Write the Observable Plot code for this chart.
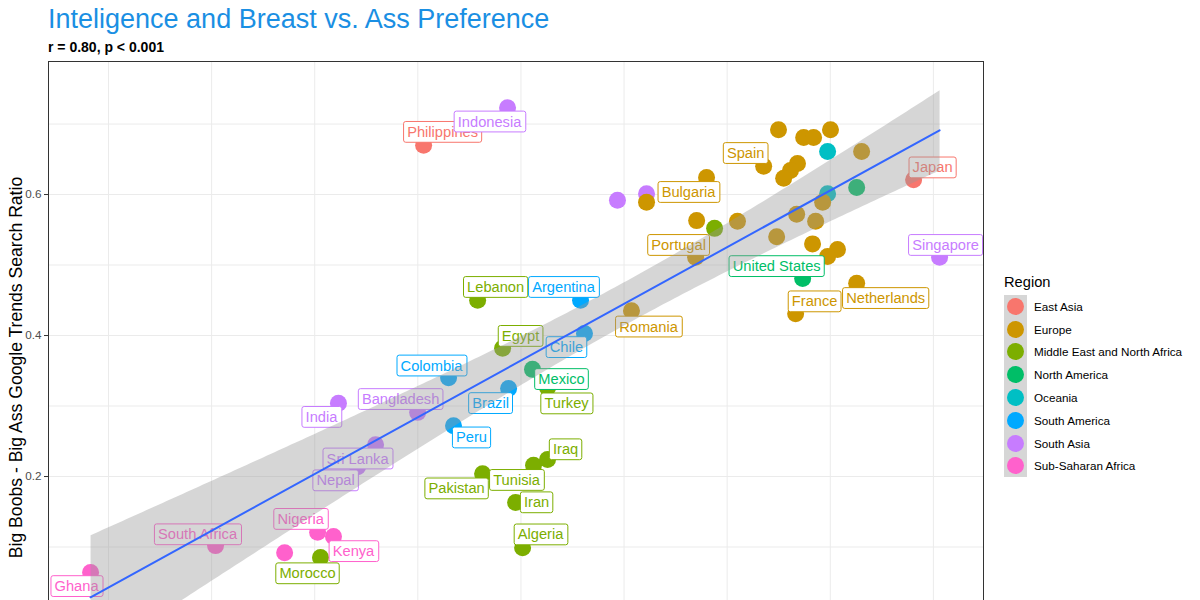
<!DOCTYPE html>
<html>
<head>
<meta charset="utf-8">
<script src="https://cdn.jsdelivr.net/npm/d3@7"></script>
<script src="https://cdn.jsdelivr.net/npm/@observablehq/plot@0.6"></script>
<style>
  html, body { margin: 0; padding: 0; background: #fff; width: 1200px; height: 600px; overflow: hidden;
    font-family: "Liberation Sans", Arial, sans-serif; }
  #title { position: absolute; left: 48px; top: 4px; font-size: 27px; line-height: 30px; color: #1a8fe3; white-space: nowrap; z-index: 2; }
  #subtitle { position: absolute; left: 48px; top: 39px; font-size: 14px; line-height: 16px; font-weight: bold; color: #000; white-space: nowrap; z-index: 2; }
  #chart { position: absolute; left: 0; top: 51px; z-index: 1; }
  #legend { position: absolute; left: 1004px; top: 272px; }
  #legend .ltitle { font-size: 14.67px; line-height: 20px; height: 23px; color: #000; }
  #legend .row { height: 22.8px; display: flex; align-items: center; }
  #legend .key { width: 23px; height: 22.8px; background: #d6d6d6; display: flex; align-items: center; justify-content: center; }
  #legend .dot { width: 17px; height: 17px; border-radius: 50%; }
  #legend .ltext { font-size: 11.7px; color: #000; margin-left: 7px; white-space: nowrap; }
</style>
</head>
<body>
<div id="title"></div>
<div id="subtitle"></div>
<div id="chart"></div>
<div id="legend"></div>
<script>
// ---- text ----
const chartTitle = "Inteligence and Breast vs. Ass Preference";
const chartSubtitle = "r = 0.80, p < 0.001";
const yTitle = "Big Boobs - Big Ass Google Trends Search Ratio";
const legendTitle = "Region";

// ---- regions (legend order) and ggplot hue palette ----
const regionNames = ["East Asia", "Europe", "Middle East and North Africa", "North America",
  "Oceania", "South America", "South Asia", "Sub-Saharan Africa"];
const regionColors = ["#F8766D", "#CD9600", "#7CAE00", "#00BE67", "#00BFC4", "#00A9FF", "#C77CFF", "#FF61CC"];

// ---- data (x = intelligence score, y = search ratio); "" = unlabeled country ----
const country = [
  "Philippines", "Japan",
  "Indonesia", "Singapore", "", "", "India", "Bangladesh", "Sri Lanka", "Nepal",
  "Ghana", "South Africa", "Nigeria", "Kenya", "",
  "Morocco", "Lebanon", "Egypt", "Turkey", "Pakistan", "Tunisia", "Iraq", "Iran", "Algeria", "",
  "Mexico", "United States", "",
  "", "",
  "Argentina", "Chile", "Colombia", "Brazil", "Peru",
  "", "", "", "", "", "Spain", "", "", "", "", "Bulgaria", "", "", "", "", "", "", "", "", "",
  "Portugal", "Netherlands", "France", "Romania"
];
const region = [
  "East Asia", "East Asia",
  "South Asia", "South Asia", "South Asia", "South Asia", "South Asia", "South Asia", "South Asia", "South Asia",
  "Sub-Saharan Africa", "Sub-Saharan Africa", "Sub-Saharan Africa", "Sub-Saharan Africa", "Sub-Saharan Africa",
  "Middle East and North Africa", "Middle East and North Africa", "Middle East and North Africa", "Middle East and North Africa",
  "Middle East and North Africa", "Middle East and North Africa", "Middle East and North Africa", "Middle East and North Africa",
  "Middle East and North Africa", "Middle East and North Africa",
  "North America", "North America", "North America",
  "Oceania", "Oceania",
  "South America", "South America", "South America", "South America", "South America",
  "Europe", "Europe", "Europe", "Europe", "Europe", "Europe", "Europe", "Europe", "Europe", "Europe",
  "Europe", "Europe", "Europe", "Europe", "Europe", "Europe", "Europe", "Europe", "Europe", "Europe",
  "Europe", "Europe", "Europe", "Europe"
];
const intelligence = [
  80.28, 104.04,
  84.35, 105.30, 89.68, 91.09, 76.15, 79.99, 77.95, 77.08,
  64.13, 70.19, 75.14, 75.91, 73.54,
  75.28, 82.90, 84.11, 86.29, 83.14, 85.61, 86.29, 84.74, 85.08, 94.39,
  85.56, 98.66, 101.28,
  99.87, 99.87,
  87.89, 88.08, 81.49, 84.40, 81.73,
  97.49, 98.71, 99.19, 100.01, 101.52, 96.77, 98.41, 98.07, 97.74, 94.00,
  91.09, 93.52, 95.50, 98.37, 99.63, 99.29, 97.40, 99.14, 100.35, 99.87,
  93.47, 101.28, 98.32, 90.36
];
const searchRatio = [
  0.670, 0.621,
  0.723, 0.511, 0.592, 0.601, 0.304, 0.291, 0.245, 0.214,
  0.064, 0.102, 0.121, 0.115, 0.092,
  0.085, 0.450, 0.382, 0.326, 0.204, 0.216, 0.224, 0.163, 0.099, 0.552,
  0.352, 0.481, 0.610,
  0.661, 0.601,
  0.450, 0.403, 0.340, 0.325, 0.272,
  0.692, 0.681, 0.681, 0.692, 0.661, 0.640, 0.644, 0.634, 0.623, 0.624,
  0.589, 0.563, 0.562, 0.572, 0.589, 0.562, 0.540, 0.530, 0.522, 0.512,
  0.511, 0.474, 0.431, 0.435
];

// ---- ticks / grid ----
const yTicks = [0, 0.2, 0.4, 0.6];
const yGrid = [-0.1, 0, 0.1, 0.2, 0.3, 0.4, 0.5, 0.6, 0.7];
const xGrid = [65, 70, 75, 80, 85, 90, 95, 100, 105];
const xDomain = [62.09, 107.43];
const yDomain = [-0.0794, 0.7887];

// ---- label nudges (px, repel-like placement) ----
const labelNudge = {
  "Philippines": [19, -13], "Japan": [19, -12], "Indonesia": [-18, 14], "Singapore": [6, -12],
  "Spain": [-18, -13], "Bulgaria": [42, -10], "Portugal": [-17, -12], "United States": [-26, -12],
  "France": [19, -12], "Netherlands": [29, 15], "Romania": [17, 16], "Lebanon": [18, -13],
  "Argentina": [-17, -13], "Egypt": [18, -12], "Chile": [-18, 14], "Colombia": [-17, -12],
  "Mexico": [29, 10], "Brazil": [-18, 15], "Turkey": [19, 16], "Bangladesh": [-17, -13],
  "India": [-17, 14], "Sri Lanka": [-18, 14], "Nepal": [-22, 14], "Peru": [18, 12],
  "Iraq": [18, -10], "Tunisia": [-17, 15], "Pakistan": [-26, 15], "Iran": [21, 0],
  "Algeria": [18, -13], "Ghana": [-14, 14], "South Africa": [-18, -11], "Nigeria": [-17, -13],
  "Kenya": [20, 15], "Morocco": [-13, 16]
};

const data = country.map((name, i) => ({name, region: region[i], x: intelligence[i], y: searchRatio[i]}));
const labelled = data.filter(d => d.name !== "");

document.getElementById("title").textContent = chartTitle;
document.getElementById("subtitle").textContent = chartSubtitle;

const font = "Liberation Sans, Arial, sans-serif";
const plot = Plot.plot({
  width: 990, height: 632,
  marginLeft: 48, marginRight: 7, marginTop: 10, marginBottom: 10,
  style: {fontFamily: font, background: "transparent", overflow: "visible"},
  x: {domain: xDomain, axis: null},
  y: {domain: yDomain, axis: null},
  color: {domain: regionNames, range: regionColors},
  marks: [
    Plot.gridX(xGrid, {stroke: "#ebebeb", strokeOpacity: 1, strokeWidth: 1}),
    Plot.gridY(yGrid, {stroke: "#ebebeb", strokeOpacity: 1, strokeWidth: 1}),
    Plot.dot(data, {x: "x", y: "y", fill: "region", r: 8.5}),
    Plot.text(labelled, {x: "x", y: "y", text: "name", fill: "region", fontSize: 14.67,
      fontFamily: font, ariaLabel: "country-labels", className: "lbl"}),
    Plot.linearRegressionY(data, {x: "x", y: "y", stroke: "#3366FF", strokeWidth: 2,
      fill: "#999999", fillOpacity: 0.4, ci: 0.95}),
    Plot.axisY({ticks: yTicks, tickFormat: d3.format(".1f"), tickSize: 4, tickPadding: 3,
      color: "#4d4d4d", stroke: "#333333", fontSize: 11.7, label: null}),
    Plot.text([yTitle], {frameAnchor: "left", rotate: -90, dx: -32, textAnchor: "middle",
      fontSize: 17.6, fill: "#000"}),
    Plot.frame({stroke: "#333333", strokeWidth: 1})
  ]
});
document.getElementById("chart").appendChild(plot);

// Label boxes (geom_label style): white rounded box with coloured border, nudged from point
const lg = plot.querySelector("g.lbl") || plot.querySelector('g[aria-label="country-labels"]');
if (lg) {
  const texts = Array.from(lg.querySelectorAll("text"));
  const ns = "http://www.w3.org/2000/svg";
  texts.forEach(t => {
    const name = t.textContent;
    const [nx, ny] = labelNudge[name] || [0, 0];
    const col = t.getAttribute("fill") || "#000";
    const bb = t.getBBox();
    const g = document.createElementNS(ns, "g");
    g.setAttribute("transform", `translate(${nx},${ny})`);
    const r = document.createElementNS(ns, "rect");
    const px = 3.6, py = 2.4;
    r.setAttribute("x", bb.x - px);
    r.setAttribute("y", bb.y - py);
    r.setAttribute("width", bb.width + 2 * px);
    r.setAttribute("height", bb.height + 2 * py);
    r.setAttribute("rx", 2.2);
    r.setAttribute("fill", "#ffffff");
    r.setAttribute("stroke", col);
    r.setAttribute("stroke-width", 1);
    const tr = t.getAttribute("transform");
    if (tr) r.setAttribute("transform", tr);
    t.parentNode.insertBefore(g, t);
    g.appendChild(r);
    g.appendChild(t);
  });
}

// Legend
const leg = document.getElementById("legend");
const lt = document.createElement("div");
lt.className = "ltitle";
lt.textContent = legendTitle;
leg.appendChild(lt);
regionNames.forEach((name, i) => {
  const row = document.createElement("div"); row.className = "row";
  const key = document.createElement("div"); key.className = "key";
  const dot = document.createElement("div"); dot.className = "dot"; dot.style.background = regionColors[i];
  key.appendChild(dot);
  const txt = document.createElement("div"); txt.className = "ltext"; txt.textContent = name;
  row.appendChild(key); row.appendChild(txt);
  leg.appendChild(row);
});
</script>
</body>
</html>
